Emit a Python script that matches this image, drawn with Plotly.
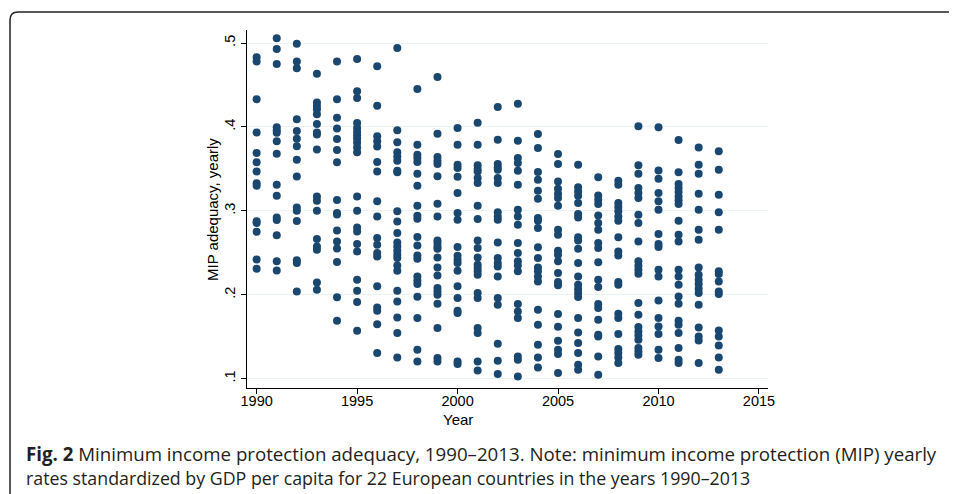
import plotly.graph_objects as go

years = list(range(1990, 2014))

v1990 = [0.483, 0.478, 0.433, 0.3935, 0.369, 0.358, 0.347, 0.333, 0.330, 0.2875, 0.2855, 0.275, 0.242, 0.231]
v1991 = [0.5056, 0.493, 0.475, 0.3995, 0.396, 0.393, 0.383, 0.368, 0.331, 0.318, 0.292, 0.289, 0.271, 0.240, 0.229]
v1992 = [0.499, 0.478, 0.470, 0.409, 0.395, 0.386, 0.377, 0.361, 0.341, 0.304, 0.300, 0.288, 0.241, 0.238, 0.204]
v1993 = [0.4635, 0.429, 0.425, 0.421, 0.415, 0.4035, 0.3935, 0.391, 0.373, 0.317, 0.312, 0.300, 0.2665, 0.2575, 0.2535, 0.2147, 0.206]
v1994 = [0.478, 0.433, 0.411, 0.398, 0.3855, 0.3725, 0.358, 0.313, 0.2975, 0.2955, 0.2765, 0.2635, 0.255, 0.239, 0.197, 0.169]
v1995 = [0.481, 0.4424, 0.4344, 0.4046, 0.3987, 0.394, 0.390, 0.386, 0.381, 0.3756, 0.3697, 0.3172, 0.300, 0.2803, 0.2755, 0.2604, 0.2517, 0.2179, 0.2048, 0.1913, 0.1571]
v1996 = [0.4722, 0.4253, 0.3888, 0.3828, 0.3768, 0.3582, 0.347, 0.3113, 0.2934, 0.2676, 0.2596, 0.2497, 0.2457, 0.2100, 0.1849, 0.181, 0.165, 0.1305]
v1997 = [0.494, 0.396, 0.3816, 0.3697, 0.3649, 0.3598, 0.3478, 0.346, 0.2994, 0.2874, 0.2735, 0.2624, 0.2576, 0.2525, 0.2477, 0.2437, 0.235, 0.2286, 0.2048, 0.192, 0.173, 0.1544, 0.1253]
v1998 = [0.4452, 0.3788, 0.3669, 0.363, 0.3582, 0.3443, 0.330, 0.3061, 0.2942, 0.2906, 0.2688, 0.2588, 0.2469, 0.243, 0.2219, 0.2171, 0.2128, 0.1977, 0.1722, 0.1345, 0.1206]
v1999 = [0.4595, 0.392, 0.3641, 0.3598, 0.3558, 0.3411, 0.3085, 0.2934, 0.2648, 0.2616, 0.2576, 0.2549, 0.2445, 0.2326, 0.2231, 0.2080, 0.2040, 0.2000, 0.1893, 0.1603, 0.1245, 0.1206]
v2000 = [0.3987, 0.3788, 0.355, 0.351, 0.3407, 0.3212, 0.2974, 0.2894, 0.2569, 0.2465, 0.2418, 0.2378, 0.2286, 0.210, 0.196, 0.181, 0.1782, 0.1206, 0.1174]
v2001 = [0.405, 0.3788, 0.3542, 0.3498, 0.347, 0.3391, 0.3331, 0.3061, 0.2902, 0.2648, 0.2557, 0.2445, 0.2358, 0.2318, 0.2279, 0.2239, 0.202, 0.196, 0.1603, 0.1544, 0.1206, 0.1098]
v2002 = [0.4237, 0.3848, 0.3558, 0.3518, 0.349, 0.3391, 0.3331, 0.2982, 0.2934, 0.2894, 0.2624, 0.2437, 0.2378, 0.2338, 0.2219, 0.196, 0.1881, 0.1416, 0.1214, 0.1055]
v2003 = [0.4277, 0.3836, 0.3629, 0.357, 0.3478, 0.3311, 0.3014, 0.2934, 0.2835, 0.2616, 0.2497, 0.2398, 0.235, 0.2279, 0.1889, 0.1802, 0.1722, 0.1265, 0.1226, 0.1027]
v2004 = [0.3915, 0.3749, 0.3462, 0.3371, 0.324, 0.3145, 0.2914, 0.2882, 0.2795, 0.2565, 0.2437, 0.2326, 0.2279, 0.2219, 0.2159, 0.1822, 0.1643, 0.1405, 0.1253, 0.1134]
v2005 = [0.3677, 0.3558, 0.3351, 0.3264, 0.3204, 0.3153, 0.3061, 0.2775, 0.2716, 0.2525, 0.2477, 0.2398, 0.2259, 0.2151, 0.2112, 0.177, 0.162, 0.1452, 0.1345, 0.1293, 0.1067]
v2006 = [0.355, 0.328, 0.3232, 0.318, 0.3093, 0.2962, 0.2922, 0.2684, 0.2648, 0.2549, 0.2378, 0.2219, 0.2120, 0.2068, 0.202, 0.1972, 0.1722, 0.155, 0.1424, 0.1305, 0.1166, 0.1106]
v2007 = [0.3399, 0.3184, 0.3133, 0.3081, 0.2946, 0.2855, 0.2775, 0.2616, 0.2557, 0.2386, 0.2179, 0.2092, 0.1889, 0.1842, 0.1702, 0.1524, 0.1504, 0.1265, 0.1047]
v2008 = [0.3359, 0.3311, 0.3093, 0.3045, 0.2994, 0.2934, 0.2882, 0.2684, 0.2517, 0.2469, 0.2151, 0.2120, 0.1774, 0.1722, 0.1532, 0.1353, 0.1305, 0.1253, 0.1186]
v2009 = [0.4007, 0.3542, 0.3443, 0.3272, 0.3212, 0.3153, 0.2954, 0.2855, 0.2636, 0.2398, 0.2346, 0.2298, 0.2251, 0.1901, 0.1762, 0.1615, 0.1563, 0.1516, 0.1464, 0.1365, 0.1325, 0.1285]
v2010 = [0.3995, 0.3482, 0.3383, 0.3212, 0.3113, 0.3014, 0.2723, 0.2604, 0.2569, 0.2298, 0.2219, 0.1933, 0.1722, 0.1623, 0.1532, 0.1345, 0.1245]
v2011 = [0.3844, 0.3459, 0.3319, 0.3272, 0.3224, 0.3172, 0.3125, 0.3081, 0.2882, 0.2716, 0.2636, 0.2298, 0.2219, 0.212, 0.198, 0.1893, 0.169, 0.1643, 0.1544, 0.1365, 0.1226, 0.1186]
v2012 = [0.3756, 0.355, 0.3443, 0.3204, 0.3014, 0.2775, 0.2656, 0.2326, 0.2239, 0.2179, 0.2128, 0.2072, 0.202, 0.1881, 0.1611, 0.1504, 0.1456, 0.1186]
v2013 = [0.3709, 0.349, 0.3192, 0.2982, 0.2775, 0.2279, 0.2247, 0.2159, 0.204, 0.2008, 0.1575, 0.1504, 0.1396, 0.1253, 0.1106]

series = [v1990, v1991, v1992, v1993, v1994, v1995, v1996, v1997, v1998, v1999,
          v2000, v2001, v2002, v2003, v2004, v2005, v2006, v2007, v2008, v2009,
          v2010, v2011, v2012, v2013]

x_ticks = [1990, 1995, 2000, 2005, 2010, 2015]
y_ticks = [0.1, 0.2, 0.3, 0.4, 0.5]
y_labels = [".1", ".2", ".3", ".4", ".5"]

xs, ys = [], []
for yr, vals in zip(years, series):
    xs += [yr] * len(vals)
    ys += vals

OFF = 8  # page body margin
W, H = 957 - OFF, 494 - OFF
L, T = 247 - OFF, 30 - OFF
pw, ph = 521, 358
R, B = W - L - pw, H - T - ph

def px(x):  # screen pixel -> paper
    return (x - OFF - L) / pw

def py(y):
    return (H - B - (y - OFF)) / ph

fig = go.Figure()
fig.add_trace(go.Scatter(x=xs, y=ys, mode="markers",
                         marker=dict(color="#1a476f", size=8, line=dict(width=0)),
                         showlegend=False, hoverinfo="x+y"))

axis_font = dict(family="Liberation Sans, Arial", size=14.5, color="#000")
fig.update_layout(
    width=W, height=H, autosize=False,
    margin=dict(l=L, r=R, t=T, b=B),
    paper_bgcolor="white", plot_bgcolor="white",
    xaxis=dict(range=[1989.52, 2015.45], tickvals=x_ticks, ticks="outside", ticklen=5,
               tickcolor="#000", showline=True, linecolor="#000", linewidth=1,
               showgrid=False, zeroline=False, tickfont=axis_font, ticklabelstandoff=-5),
    yaxis=dict(range=[0.0889, 0.5155], tickvals=y_ticks, ticktext=y_labels,
               ticks="outside", ticklen=5, tickcolor="#000", tickangle=-90,
               showline=True, linecolor="#000", linewidth=1,
               showgrid=True, gridcolor="#eaf2f3", gridwidth=1, zeroline=False,
               tickfont=axis_font),
)

title_font = dict(family="Liberation Sans, Arial", size=15, color="#000")
fig.add_annotation(text="Year", x=px(458), y=py(419), xref="paper", yref="paper",
                   xanchor="center", yanchor="middle", showarrow=False, font=title_font)
fig.add_annotation(text="MIP adequacy, yearly", x=px(212), y=py(210), xref="paper", yref="paper",
                   xanchor="center", yanchor="middle", textangle=-90, showarrow=False,
                   font=title_font)

fig.add_annotation(text="<b>Fig. 2</b> Minimum income protection adequacy, 1990–2013. Note: minimum income protection (MIP) yearly",
                   x=px(24), y=py(453), xref="paper", yref="paper", xanchor="left", yanchor="middle",
                   showarrow=False, font=dict(family="Open Sans", size=18.7, color="#231f20"), align="left")
fig.add_annotation(text="rates standardized by GDP per capita for 22 European countries in the years 1990–2013",
                   x=px(24), y=py(478), xref="paper", yref="paper", xanchor="left", yanchor="middle",
                   showarrow=False, font=dict(family="Open Sans", size=17.8, color="#231f20"), align="left")

# outer rounded frame (top and left edges visible)
x0, x1, y0, y1 = px(10), px(975), py(12), py(520)
r, rv = 8 / pw, 8 / ph
path = (f"M {x0} {y1} L {x0} {y0 - rv} Q {x0} {y0} {x0 + r} {y0} L {x1} {y0}")
fig.add_shape(type="path", path=path, xref="paper", yref="paper",
              line=dict(color="#222", width=1.5))

fig.write_html("out.html")
